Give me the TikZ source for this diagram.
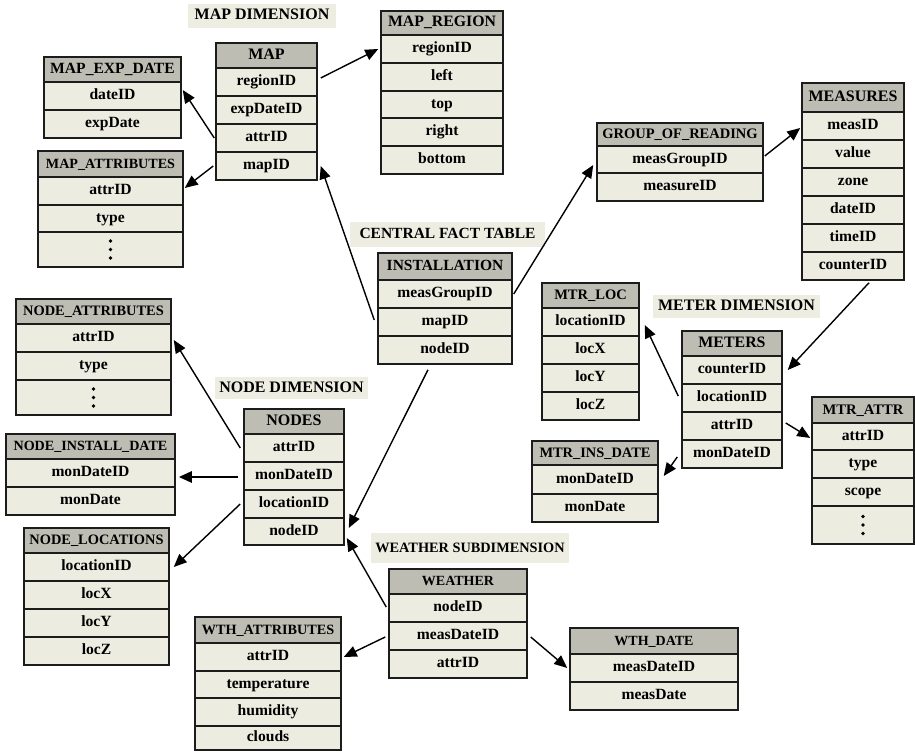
\documentclass[tikz,border=0pt]{standalone}
\usepackage{fontspec}
\setmainfont{Liberation Serif}
\usetikzlibrary{arrows.meta}

\definecolor{hdrgray}{HTML}{BDBDB4}
\definecolor{rowbeige}{HTML}{ECECE0}
\definecolor{lblbeige}{HTML}{EDEDE1}
\definecolor{edgeink}{HTML}{1C1C1C}

\newcommand\fs[1]{\fontsize{#1}{#1}\selectfont}
% three stacked dots marking further columns in a row
\newcommand\moredots[1]{\foreach \d in {-8.5,0,8.5} {\fill[black] ([yshift=\d pt]#1.center) circle (1.9pt);}}

\tikzset{
  dbhead/.style={draw=edgeink, line width=1.5pt, fill=hdrgray, inner sep=0pt,
    font=\bfseries, text height=11pt, text depth=3pt},
  dbrow/.style={draw=edgeink, line width=1.5pt, fill=rowbeige, inner sep=0pt,
    font=\bfseries\fs{15.6}, text height=11pt, text depth=3.5pt},
  dimlabel/.style={fill=lblbeige, inner sep=0pt, font=\bfseries, text height=11pt, text depth=3pt},
  fk/.style={draw=black, line width=1.4pt, -{Triangle[length=13pt,width=11pt]}},
}

% table: #1 name, #2 left, #3 right, #4 top, #5 header height, #6 title, #7 rows (text/height)
\newcommand\dbtable[7]{%
  \pgfmathsetmacro\dbw{#3-#2}%
  \pgfmathsetmacro\dbx{(#2+#3)/2}%
  \pgfmathsetmacro\dby{#4+#5/2}%
  \node[dbhead, minimum width=\dbw pt, minimum height=#5 pt] (#1) at (\dbx,\dby) {#6};%
  \pgfmathsetmacro\dbcur{#4+#5}%
  \global\let\dbcur\dbcur
  \foreach \txt/\rh [count=\i] in {#7} {%
    \pgfmathsetmacro\dby{\dbcur+\rh/2}%
    \node[dbrow, minimum width=\dbw pt, minimum height=\rh pt] (#1-\i) at (\dbx,\dby) {\txt};%
    \pgfmathsetmacro\dbnext{\dbcur+\rh}%
    \global\let\dbcur\dbnext
  }%
}

\begin{document}
\begin{tikzpicture}[x=1pt, y=-1pt]
\useasboundingbox (0,0) rectangle (915,752);

% dimension captions
\node[dimlabel, font=\bfseries\fs{16}, minimum width=148pt, minimum height=24pt] (lblmap) at (262,16) {MAP DIMENSION};
\node[dimlabel, font=\bfseries\fs{15.5}, minimum width=195pt, minimum height=25pt] (lblfact) at (447.5,234.5) {CENTRAL FACT TABLE};
\node[dimlabel, font=\bfseries\fs{16}, minimum width=153pt, minimum height=22pt] (lblnode) at (291.5,388) {NODE DIMENSION};
\node[dimlabel, font=\bfseries\fs{16}, minimum width=167pt, minimum height=23pt] (lblmeter) at (736.5,306.5) {METER DIMENSION};
\node[dimlabel, font=\bfseries\fs{14.3}, minimum width=198pt, minimum height=30pt] (lblwth) at (470,548) {WEATHER SUBDIMENSION};

% map dimension
\dbtable{mapexp}{44}{181}{57}{25}{\fs{15.6}MAP\_EXP\_DATE}{dateID/28, expDate/28}
\dbtable{mapattr}{38}{183}{151}{26}{\fs{14.1}MAP\_ATTRIBUTES}{attrID/28, type/27, {}/35}
\moredots{mapattr-3}
\dbtable{map}{216}{317}{43}{25}{\fs{16}MAP}{regionID/28, expDateID/28, attrID/28, mapID/28}
\dbtable{mapreg}{381}{503}{11}{24}{\fs{15.8}MAP\_REGION}{regionID/28, left/28, top/27, right/28, bottom/28}

% measures
\dbtable{grp}{597}{763}{123}{23}{\fs{14.5}GROUP\_OF\_READING}{measGroupID/27, measureID/28}
\dbtable{meas}{802}{904}{83}{29}{\fs{16}MEASURES}{measID/28, value/28, zone/28, dateID/28, timeID/28, counterID/28}

% fact table
\dbtable{inst}{378}{512}{253}{27}{\fs{15.5}INSTALLATION}{measGroupID/28, mapID/28, nodeID/28}

% meter dimension
\dbtable{mtrloc}{542}{639}{283}{25}{\fs{14.5}MTR\_LOC}{locationID/28, locX/28, locY/28, locZ/28}
\dbtable{meters}{682}{782}{331}{25}{\fs{15.9}METERS}{counterID/28, locationID/28, attrID/28, monDateID/28}
\dbtable{mtrattr}{812}{914}{397}{26}{\fs{14.6}MTR\_ATTR}{attrID/27, type/28, scope/28, {}/38}
\moredots{mtrattr-4}
\dbtable{mtrins}{532}{658}{441}{24}{\fs{14.4}MTR\_INS\_DATE}{monDateID/29, monDate/28}

% node dimension
\dbtable{nodeattr}{16}{171}{299}{25}{\fs{14.4}NODE\_ATTRIBUTES}{attrID/28, type/28, {}/35}
\moredots{nodeattr-3}
\dbtable{nodes}{244}{344}{409}{25}{\fs{16}NODES}{attrID/28, monDateID/28, locationID/28, nodeID/27}
\dbtable{nodeinst}{6}{175}{434}{25}{\fs{14.1}NODE\_INSTALL\_DATE}{monDateID/28, monDate/28}
\dbtable{nodeloc}{24}{169}{528}{25}{\fs{14.4}NODE\_LOCATIONS}{locationID/28, locX/28, locY/28, locZ/28}

% weather subdimension
\dbtable{wthattr}{195}{341}{617}{26}{\fs{14.2}WTH\_ATTRIBUTES}{attrID/28, temperature/27, humidity/28, clouds/24}
\dbtable{weather}{389}{527}{569}{25}{\fs{14}WEATHER}{nodeID/28, measDateID/28, attrID/28}
\dbtable{wthdate}{570}{738}{628}{26}{\fs{14}WTH\_DATE}{measDateID/28, measDate/28}

% foreign-key references
\draw[fk] ([xshift=3pt,yshift=4pt]map-1.east) -- ([xshift=-2pt]mapreg-1.west);
\draw[fk] ([xshift=-1pt]map-3.west) -- ([xshift=1pt,yshift=6pt]mapexp-1.east);
\draw[fk] ([xshift=-2pt]map-4.west) -- ([xshift=1pt,yshift=3pt]mapattr-1.east);
\draw[fk] ([xshift=-3pt,yshift=2pt]inst-2.west) -- ([xshift=3pt]map-4.east);
\draw[fk] ([xshift=1pt]inst-1.east) -- ([xshift=-3pt,yshift=-5.5pt]grp-1.west);
\draw[fk] ([xshift=1pt,yshift=3.5pt]grp-1.east) -- ([xshift=-1pt,yshift=-2pt]meas-1.west);
\draw[fk] ([xshift=16pt,yshift=-2pt]meas-6.south) -- ([xshift=5pt]meters-1.east);
\draw[fk] ([xshift=-3pt,yshift=2pt]meters-2.west) -- ([xshift=5pt,yshift=-3pt]mtrloc-1.east);
\draw[fk] ([xshift=3pt,yshift=3pt]meters-3.east) -- ([xshift=-1pt,yshift=-1.5pt]mtrattr-1.west);
\draw[fk] ([xshift=-4pt,yshift=-3pt]meters-4.west) -- ([xshift=5pt,yshift=3.5pt]mtrins-1.east);
\draw[fk] ([xshift=-17pt,yshift=-5pt]inst-3.south) -- ([xshift=4pt,yshift=3.5pt]nodes-4.east);
\draw[fk] ([xshift=-3pt]nodes-1.west) -- ([xshift=2pt,yshift=-2pt]nodeattr-1.east);
\draw[fk, line width=2.6pt] ([xshift=-5pt,yshift=-1pt]nodes-2.west) -- ([xshift=3pt,yshift=-4pt]nodeinst-1.east);
\draw[fk] ([xshift=-3pt]nodes-3.west) -- ([xshift=4pt]nodeloc-1.east);
\draw[fk] ([xshift=-2pt,yshift=1pt]weather-1.west) -- ([xshift=2pt,yshift=-6.5pt]nodes-4.east);
\draw[fk] ([xshift=-3pt,yshift=-1pt]weather-2.west) -- ([xshift=2pt]wthattr-1.east);
\draw[fk] ([xshift=3pt,yshift=-1pt]weather-2.east) -- ([xshift=-2pt]wthdate-1.west);
\end{tikzpicture}
\end{document}
